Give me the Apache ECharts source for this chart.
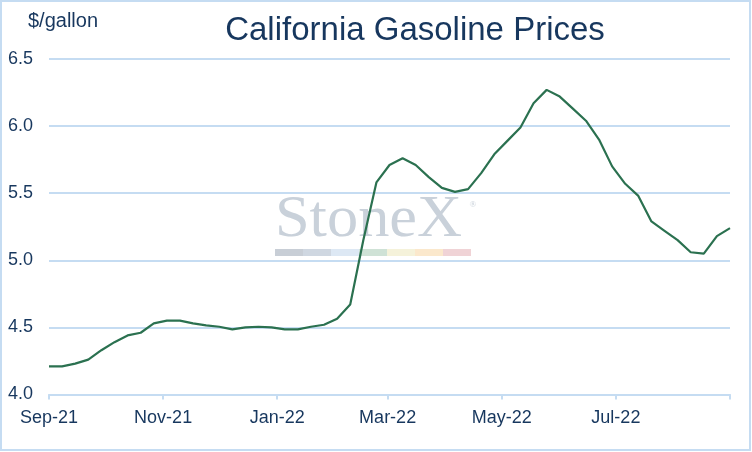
<!DOCTYPE html>
<html>
<head>
<meta charset="utf-8">
<script src="https://cdn.jsdelivr.net/npm/echarts@6/dist/echarts.min.js"></script>
<style>
html,body{margin:0;padding:0;background:#fff;}
#chart{width:752px;height:452px;}
</style>
</head>
<body>
<div id="chart"></div>
<script>
// Weekly California retail gasoline prices ($/gallon), first week 2021-09-06
var prices = [
  4.21, 4.21, 4.23, 4.26, 4.33, 4.39, 4.44, 4.46, 4.53, 4.55,
  4.55, 4.53, 4.515, 4.505, 4.485, 4.50, 4.505, 4.50, 4.485, 4.485,
  4.505, 4.52, 4.565, 4.67, 5.15, 5.58, 5.71, 5.76, 5.71, 5.62,
  5.54, 5.51, 5.53, 5.65, 5.79, 5.89, 5.99, 6.17, 6.27, 6.22,
  6.13, 6.04, 5.90, 5.70, 5.57, 5.48, 5.29, 5.22, 5.15, 5.06,
  5.05, 5.18, 5.24
];
// x positions are days since 2021-09-06
var tickDays = [0, 61, 122, 181, 242, 303, 364];
var tickLabels = ['Sep-21', 'Nov-21', 'Jan-22', 'Mar-22', 'May-22', 'Jul-22'];
var yTicks = [4.0, 4.5, 5.0, 5.5, 6.0, 6.5];

var seriesData = prices.map(function (v, i) { return [i * 7, v]; });
var labelDays = tickDays.slice(0, tickLabels.length);

var textColor = '#17375e';
var gridColor = '#c5dcf2';

var chart = echarts.init(document.getElementById('chart'), null, {renderer: 'canvas'});
var barColors = ['#c8ced6', '#cfd7e1', '#dde8f4', '#cfe2d6', '#f5f2da', '#fbe8cc', '#f0d3d6'];
var wm = [];
barColors.forEach(function (c, i) {
  wm.push({type: 'rect', shape: {x: 275 + i * 28, y: 249, width: 28, height: 7}, style: {fill: c}, z: 0, silent: true});
});
wm.push({type: 'text', x: 368.5, y: 220, scaleX: 1.04, originX: 0, style: {text: 'StoneX', font: '60px "Liberation Serif"', fill: '#c9d1da', align: 'center', verticalAlign: 'middle'}, z: 0, silent: true});
wm.push({type: 'text', x: 473, y: 205, style: {text: '®', font: '9px "Liberation Serif"', fill: '#c9d1da', align: 'center', verticalAlign: 'middle'}, z: 0, silent: true});
wm.push({type: 'rect', shape: {x: 1, y: 1, width: 749, height: 449}, style: {fill: 'none', stroke: gridColor, lineWidth: 2}, z: 0, silent: true});

chart.setOption({
  animation: false,
  backgroundColor: '#ffffff',
  title: {
    text: 'California Gasoline Prices',
    left: 410, top: 9, textAlign: 'center',
    textStyle: {fontFamily: 'Liberation Sans', fontSize: 33, fontWeight: 'normal', color: textColor}
  },
  graphic: [
    {type: 'text', left: 28, top: 11, style: {text: '$/gallon', font: '20px "Liberation Sans"', fill: textColor}}
  ].concat(wm),
  grid: {left: 49, right: 22, top: 59, bottom: 57.5, containLabel: false},
  xAxis: {
    type: 'value',
    min: tickDays[0],
    max: tickDays[tickDays.length - 1],
    axisLine: {show: true, onZero: false, lineStyle: {color: gridColor, width: 2}},
    axisTick: {show: true, customValues: tickDays, length: 5, lineStyle: {color: gridColor, width: 2}},
    splitLine: {show: false},
    axisLabel: {
      customValues: labelDays,
      color: textColor, fontFamily: 'Liberation Sans', fontSize: 18, margin: 15,
      formatter: function (v) {
        var k = tickDays.indexOf(Math.round(v));
        return k >= 0 && k < tickLabels.length ? tickLabels[k] : '';
      }
    }
  },
  yAxis: {
    type: 'value',
    min: yTicks[0], max: yTicks[yTicks.length - 1], interval: 0.5,
    axisLine: {show: false},
    axisTick: {show: false},
    splitLine: {show: true, lineStyle: {color: gridColor, width: 2}},
    axisLabel: {
      color: textColor, fontFamily: 'Liberation Sans', fontSize: 18, margin: 16,
      formatter: function (v) { return v.toFixed(1); }
    }
  },
  series: [{
    type: 'line',
    data: seriesData,
    showSymbol: false,
    symbol: 'none',
    z: 5,
    lineStyle: {color: '#2b7150', width: 2.2}
  }]
});
</script>
</body>
</html>
